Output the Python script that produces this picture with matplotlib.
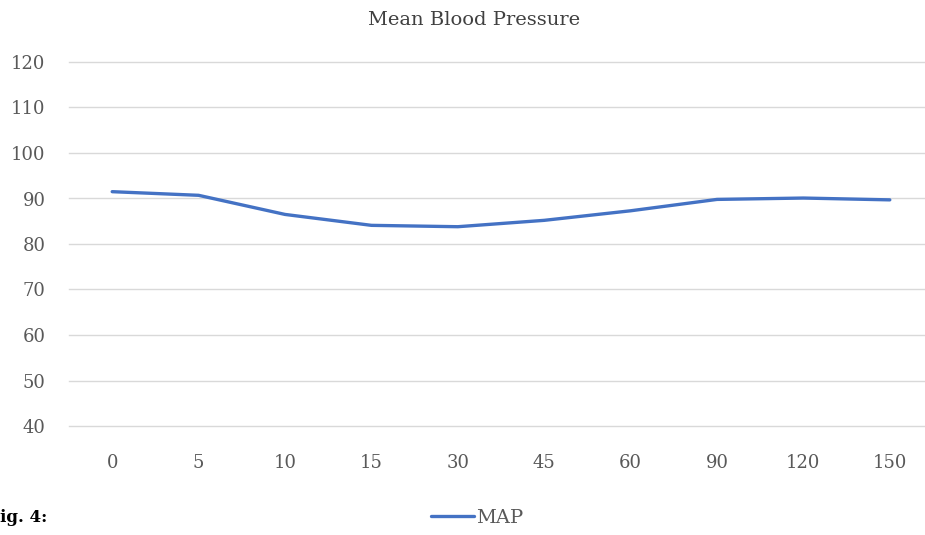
import matplotlib
matplotlib.use("Agg")
import matplotlib.pyplot as plt

# minutes after the start, shown as category labels
time_labels = ["0", "5", "10", "15", "30", "45", "60", "90", "120", "150"]
map_values = [91.5, 90.7, 86.5, 84.1, 83.8, 85.2, 87.3, 89.8, 90.1, 89.7]
y_ticks = [40, 50, 60, 70, 80, 90, 100, 110, 120]

plt.rcParams["font.family"] = ["DejaVu Serif"]

fig = plt.figure(figsize=(9.25, 5.35), dpi=100)
ax = fig.add_axes([69 / 925, 1 - 426 / 535, 864 / 925, 364 / 535])

xs = list(range(len(time_labels)))
ax.plot(xs, map_values, color="#4472C4", linewidth=2.4, solid_capstyle="round", label="MAP")

ax.set_xlim(-0.5, len(time_labels) - 0.5)
ax.set_ylim(40, 120)
ax.set_yticks(y_ticks)
ax.set_xticks(xs)
ax.set_xticklabels(time_labels)
ax.grid(axis="y", color="#d9d9d9", linewidth=1)
ax.set_axisbelow(True)
for gl in ax.get_ygridlines():
    gl.set_clip_on(False)
for s in ax.spines.values():
    s.set_visible(False)
ax.tick_params(length=0, labelsize=13, colors="#595959")
ax.tick_params(axis="x", pad=20)
ax.tick_params(axis="y", pad=17)

fig.text(474 / 925, 1 - 20 / 535, "Mean Blood Pressure", ha="center", va="center",
         fontsize=14, color="#404040")

leg = fig.legend(loc="center", bbox_to_anchor=(477 / 925, 1 - 518 / 535), frameon=False,
                 fontsize=14, handlelength=2.2, handletextpad=0.1)
for t in leg.get_texts():
    t.set_color("#595959")

fig.text(0.0, 1 - 518 / 535, "ig. 4:", ha="left", va="center", fontsize=12,
         fontweight="bold", color="black")

fig.savefig("out.png", dpi=100)
